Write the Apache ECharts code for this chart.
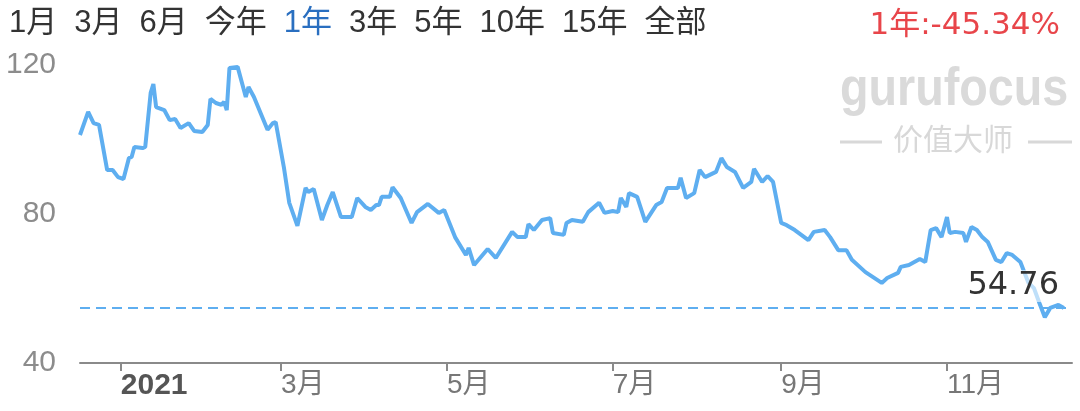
<!DOCTYPE html>
<html><head><meta charset="utf-8">
<script src="https://cdn.jsdelivr.net/npm/echarts@6/dist/echarts.min.js"></script>
<style>html,body{margin:0;padding:0;background:#fff}#c{width:1080px;height:411px}</style>
</head><body><div id="c"></div>
<script>
const dates = [
'2020-12-17','2020-12-20','2020-12-22','2020-12-24','2020-12-27','2020-12-29','2020-12-31',
'2021-01-02','2021-01-04','2021-01-05','2021-01-06','2021-01-09','2021-01-10','2021-01-12','2021-01-13','2021-01-14','2021-01-17','2021-01-19','2021-01-21','2021-01-23','2021-01-26','2021-01-28','2021-01-31',
'2021-02-02','2021-02-03','2021-02-05','2021-02-07','2021-02-08','2021-02-09','2021-02-10','2021-02-13','2021-02-16','2021-02-17','2021-02-19','2021-02-24','2021-02-26','2021-02-27',
'2021-03-02','2021-03-04','2021-03-07','2021-03-10','2021-03-11','2021-03-13','2021-03-16','2021-03-18','2021-03-20','2021-03-23','2021-03-27','2021-03-29',
'2021-04-01','2021-04-03','2021-04-05','2021-04-06','2021-04-07','2021-04-10','2021-04-11','2021-04-14','2021-04-18','2021-04-20','2021-04-24','2021-04-28','2021-04-30',
'2021-05-04','2021-05-08','2021-05-09','2021-05-11','2021-05-16','2021-05-19','2021-05-25','2021-05-27','2021-05-30','2021-05-31',
'2021-06-02','2021-06-05','2021-06-08','2021-06-09','2021-06-13','2021-06-14','2021-06-16','2021-06-20','2021-06-22','2021-06-26','2021-06-28',
'2021-07-01','2021-07-03','2021-07-04','2021-07-06','2021-07-07','2021-07-10','2021-07-13','2021-07-17','2021-07-19','2021-07-21','2021-07-25','2021-07-26','2021-07-28','2021-07-31',
'2021-08-02','2021-08-04','2021-08-08','2021-08-10','2021-08-12','2021-08-15','2021-08-18','2021-08-21','2021-08-22','2021-08-25','2021-08-27','2021-08-29',
'2021-09-01','2021-09-03','2021-09-06','2021-09-11','2021-09-13','2021-09-17','2021-09-19','2021-09-22','2021-09-25','2021-09-27',
'2021-10-02','2021-10-08','2021-10-10','2021-10-14','2021-10-15','2021-10-18','2021-10-22','2021-10-24','2021-10-26','2021-10-28','2021-10-30',
'2021-11-01','2021-11-02','2021-11-04','2021-11-07','2021-11-08','2021-11-10','2021-11-12','2021-11-14','2021-11-16','2021-11-19','2021-11-21','2021-11-23','2021-11-25','2021-11-28',
'2021-12-01','2021-12-03','2021-12-05','2021-12-07','2021-12-09','2021-12-12','2021-12-14'
];
const prices = [
101.2,107.4,104.4,103.9,91.8,91.8,89.9,
89.4,95.0,95.3,98.0,97.7,98.0,112.5,114.9,108.7,107.9,105.2,105.5,103.1,104.4,102.3,102.0,
103.9,110.9,109.8,109.3,110.1,107.9,119.2,119.5,111.4,114.1,111.4,102.6,104.4,104.7,
92.6,83.0,76.8,87.0,85.9,86.7,78.4,82.4,85.9,79.2,79.2,84.3,
81.9,81.1,82.4,82.4,84.6,84.6,87.2,84.3,77.6,80.5,82.7,80.3,81.1,
73.8,69.0,70.9,66.3,70.6,68.2,75.2,73.8,73.8,77.3,
75.7,78.4,78.9,74.9,74.4,77.6,78.4,77.9,80.5,83.0,80.3,
80.8,80.5,84.3,81.9,85.6,84.6,77.9,82.4,83.2,87.0,87.0,89.7,84.3,85.6,
91.8,89.9,91.3,95.0,92.6,91.3,87.0,88.6,92.1,88.6,90.2,88.6,
77.6,77.0,75.7,73.0,75.2,75.7,73.8,70.3,70.3,67.7,
64.4,61.5,62.8,64.2,65.8,66.3,67.9,67.1,75.7,76.2,73.8,
79.2,74.9,75.2,74.9,72.5,76.5,75.7,73.8,72.5,67.7,67.1,69.5,69.0,67.1,
61.5,60.1,56.1,52.3,54.8,55.6,54.76
];
const xTickDates = ['2021-01-01','2021-03-01','2021-05-01','2021-07-01','2021-09-01','2021-11-01'];
const xTickLabels = ['2021','3月','5月','7月','9月','11月'];
const yTicks = [40, 80, 120];
const menuItems = ['1月','3月','6月','今年','1年','3年','5年','10年','15年','全部'];
const activeMenu = '1年';
const changeText = '1年:-45.34%';
const lastPrice = 54.76;
const xRange = ['2020-12-17', '2021-12-17'];

const FONT = "'Liberation Sans','Noto Sans CJK SC',sans-serif";
const WIDE = "'DejaVu Sans','Noto Sans CJK SC',sans-serif";
const LINE = '#5eaef0';
function ts(s){ const p = s.split('-').map(Number); return Date.UTC(p[0], p[1]-1, p[2]); }
const tickTs = xTickDates.map(ts);
const labelMap = {};
tickTs.forEach((t,i)=>{ labelMap[t] = xTickLabels[i]; });

const chart = echarts.init(document.getElementById('c'));
chart.setOption({
  animation: false,
  backgroundColor: '#fff',
  title: [{
    text: menuItems.map(m => m === activeMenu ? '{a|' + m + '}' : '{n|' + m + '}').join('{s|}'),
    left: 4, top: 3,
    textStyle: { fontWeight: 'normal', rich: {
      n: { fontSize: 31, color: '#333', fontWeight: 'normal', fontFamily: FONT },
      a: { fontSize: 31, color: '#2a6fc0', fontWeight: 'normal', fontFamily: FONT },
      s: { fontSize: 31, width: 17, fontFamily: FONT }
    } }
  }, {
    text: changeText, right: 15, top: 5,
    textStyle: { fontSize: 31, color: '#e8454a', fontWeight: 'normal', fontFamily: WIDE }
  }],
  graphic: [
    { type: 'text', left: 840, top: 63, silent: true, scaleX: 0.865,
      style: { text: 'gurufocus', font: "bold 54px 'Liberation Sans',sans-serif", fill: '#dadada' } },
    { type: 'text', left: 893, top: 124, silent: true,
      style: { text: '价值大师', font: "30px 'Noto Sans CJK SC',sans-serif", fill: '#d8d8d8' } },
    { type: 'line', silent: true, shape: { x1: 840, y1: 142, x2: 882, y2: 142 }, style: { stroke: '#d8d8d8', lineWidth: 3 } },
    { type: 'line', silent: true, shape: { x1: 1028, y1: 142, x2: 1072, y2: 142 }, style: { stroke: '#d8d8d8', lineWidth: 3 } }
  ],
  grid: { left: 80, right: 8, top: 65, bottom: 48 },
  xAxis: {
    type: 'value', min: ts(xRange[0]), max: ts(xRange[1]),
    axisLine: { show: true, lineStyle: { color: '#8a8a8a', width: 2 } },
    axisTick: { show: true, customValues: tickTs, length: 8, lineStyle: { color: '#8a8a8a', width: 2 } },
    axisLabel: {
      customValues: tickTs, align: 'left', margin: 8,
      formatter: v => { const l = labelMap[v] || ''; return l === xTickLabels[0] ? '{y|' + l + '}' : '{m|' + l + '}'; },
      rich: {
        y: { fontSize: 30, fontWeight: 'bold', color: '#555', fontFamily: FONT },
        m: { fontSize: 28, color: '#777', fontFamily: FONT }
      }
    },
    splitLine: { show: false }
  },
  yAxis: {
    type: 'value', min: yTicks[0], max: yTicks[yTicks.length-1], interval: yTicks[1]-yTicks[0],
    axisLine: { show: false }, axisTick: { show: false }, splitLine: { show: false },
    axisLabel: { fontSize: 30, color: '#8c8c8c', margin: 24, fontFamily: FONT }
  },
  series: [{
    type: 'line', data: dates.map((d, i) => [ts(d), prices[i]]),
    symbol: 'none', showSymbol: false,
    lineStyle: { color: LINE, width: 4 }, itemStyle: { color: LINE },
    markLine: {
      silent: true, symbol: ['none', 'none'],
      lineStyle: { color: LINE, type: [10, 6], width: 2 },
      label: { position: 'insideEndTop', formatter: () => lastPrice.toFixed(2), color: '#333', fontSize: 32, fontFamily: WIDE,
               backgroundColor: 'rgba(255,255,255,0.6)', padding: [0, 7, 0, 2], distance: 6 },
      data: [{ yAxis: lastPrice }]
    }
  }]
});
</script></body></html>
